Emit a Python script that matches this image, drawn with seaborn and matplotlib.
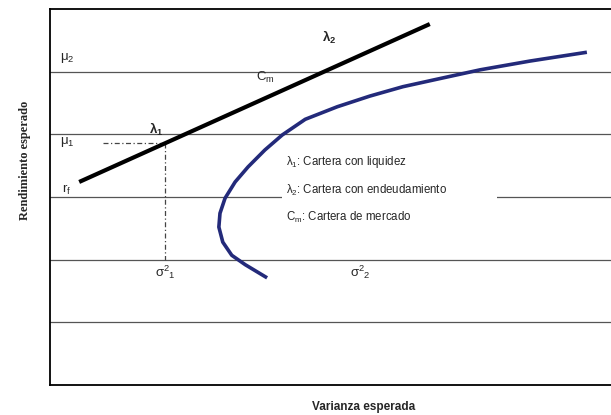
import matplotlib.pyplot as plt
import pandas as pd
import seaborn as sns
from matplotlib.patches import Rectangle

# capital market line (rf -> lambda2)
cml_x = [0.52, 6.77]
cml_y = [3.24, 5.76]

# efficient frontier (bottom end -> top end)
frontier_x = [3.87, 3.48, 3.24, 3.08, 3.01, 3.03, 3.12, 3.30, 3.53, 3.83,
              4.14, 4.55, 5.12, 5.70, 6.29, 6.90, 7.67, 8.56, 9.57]
frontier_y = [1.71, 1.92, 2.07, 2.28, 2.52, 2.74, 2.98, 3.24, 3.48, 3.75,
              3.99, 4.24, 4.44, 4.61, 4.76, 4.88, 5.03, 5.17, 5.31]

# lambda1 point and guide lines
lam1_x = 2.05
lam1_y = 3.86
guide_start_x = 0.95
guide_floor_y = 2.0

grid_levels = [1, 2, 3, 4, 5]

legend_lines = [
    r"$\lambda_1$: Cartera con liquidez",
    r"$\lambda_2$: Cartera con endeudamiento",
    r"$\mathregular{C_m}$: Cartera de mercado",
]
legend_y = [3.56, 3.10, 2.68]

sns.set_style("white")
plt.rcParams["font.family"] = ["Liberation Sans", "DejaVu Sans"]
plt.rcParams["mathtext.fontset"] = "custom"
plt.rcParams["mathtext.rm"] = "Liberation Sans"
plt.rcParams["mathtext.it"] = "Liberation Sans"
plt.rcParams["mathtext.bf"] = "Liberation Sans:bold"

fig = plt.figure(figsize=(6.11, 4.15), dpi=100)
ax = fig.add_axes([50 / 611, 30 / 415, 561 / 611, 376 / 415])

for lvl in grid_levels:
    ax.axhline(lvl, color="#555555", lw=0.9, zorder=1)

# white box behind the legend text
ax.add_patch(Rectangle((4.13, 2.55), 3.83, 1.2, facecolor="white",
                       edgecolor="none", zorder=2))

cml = pd.DataFrame({"x": cml_x, "y": cml_y})
sns.lineplot(data=cml, x="x", y="y", color="black", lw=3.0, ax=ax,
             solid_capstyle="butt", zorder=4)

front = pd.DataFrame({"x": frontier_x, "y": frontier_y})
sns.lineplot(data=front, x="x", y="y", sort=False, estimator=None,
             color="#232a7a", lw=2.6, ax=ax, zorder=4,
             solid_joinstyle="round", solid_capstyle="butt")

ax.plot([guide_start_x, lam1_x], [lam1_y, lam1_y], color="#444444", lw=0.9,
        ls=(0, (4, 2, 1, 2)), zorder=3)
ax.plot([lam1_x, lam1_x], [lam1_y, guide_floor_y], color="#444444", lw=0.9,
        ls=(0, (4, 2, 1, 2)), zorder=3)

fs = 9.5
ax.text(0.18, 5.22, r"$\mu_2$", fontsize=fs, va="center", ha="left")
ax.text(0.18, 3.88, r"$\mu_1$", fontsize=fs, va="center", ha="left")
ax.text(0.21, 3.11, r"$\mathregular{r_f}$", fontsize=fs, va="center", ha="left")
ax.text(1.89, 4.07, r"$\mathbf{\lambda_1}$", fontsize=fs, va="center", ha="center")
ax.text(4.97, 5.54, r"$\mathbf{\lambda_2}$", fontsize=fs, va="center", ha="center")
ax.text(3.83, 4.90, r"$\mathregular{C_m}$", fontsize=fs, va="center", ha="center")
ax.text(2.05, 1.79, r"$\mathregular{\sigma^2{}_1}$", fontsize=fs, va="center", ha="center")
ax.text(5.53, 1.79, r"$\mathregular{\sigma^2{}_2}$", fontsize=fs, va="center", ha="center")

for txt, yy in zip(legend_lines, legend_y):
    ax.text(4.21, yy, txt, fontsize=8.3, va="center", ha="left", zorder=5)

ax.set_xlim(0, 10)
ax.set_ylim(0, 6)
ax.set_xticks([])
ax.set_yticks([])
ax.set_xlabel("")
ax.set_ylabel("")
for side in ["left", "bottom", "top"]:
    ax.spines[side].set_color("black")
    ax.spines[side].set_linewidth(1.3)
ax.spines["right"].set_visible(False)

fig.text(364 / 611, 1 - 407 / 415, "Varianza esperada", fontsize=8.5,
         fontweight="bold", ha="center", va="center")
fig.text(25 / 611, 1 - 160 / 415, "Rendimiento esperado", fontsize=9,
         fontweight="bold", family="Liberation Serif", rotation=90,
         ha="center", va="center")

fig.savefig("out.png", dpi=100, facecolor="white")
